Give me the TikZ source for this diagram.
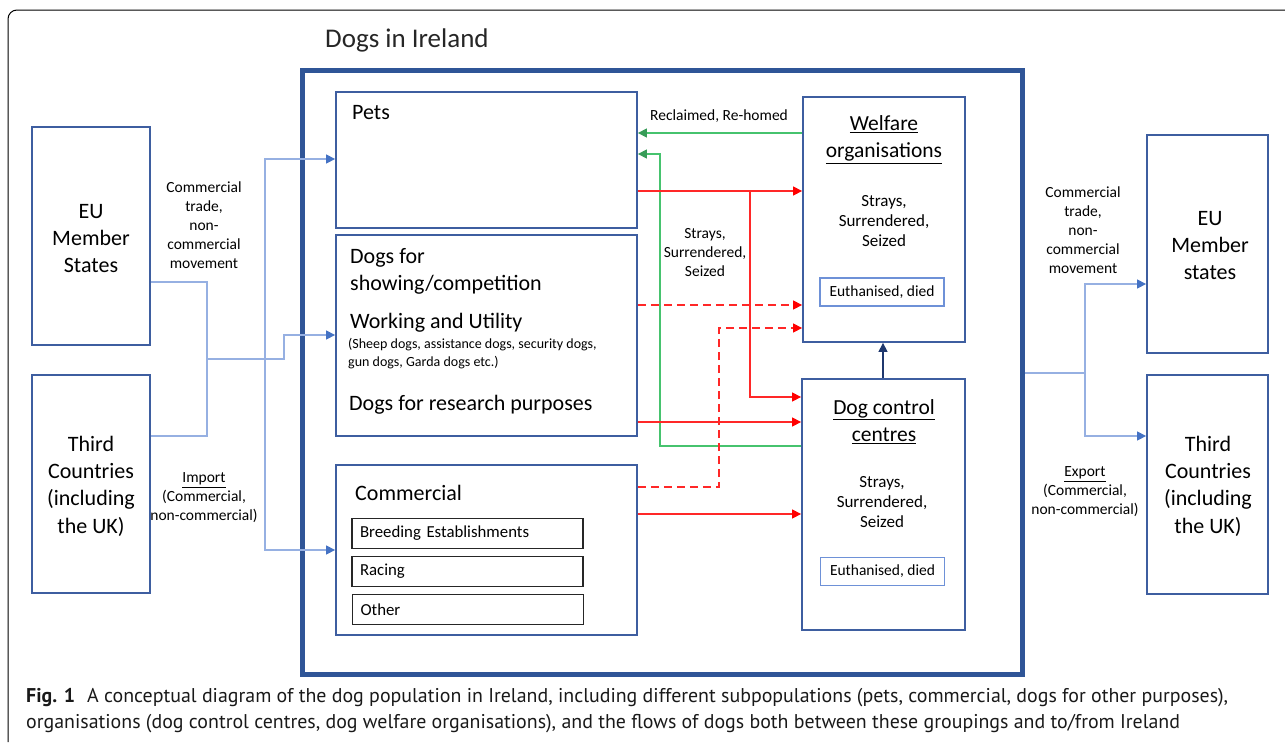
\documentclass[tikz,border=0pt]{standalone}
\usepackage{fontspec}
\setmainfont{Carlito}
\newfontfamily\capfont{PT Sans}
\usepackage{xcolor}
\usepackage{tikz}
\usetikzlibrary{arrows.meta}
\definecolor{irlblue}{RGB}{47,85,151}
\definecolor{boxblue}{RGB}{62,94,160}
\definecolor{euthblue}{RGB}{110,145,215}
\definecolor{flowblue}{RGB}{150,176,226}
\definecolor{tipblue}{RGB}{68,114,196}
\definecolor{flowred}{RGB}{255,40,40}
\definecolor{flowgreen}{RGB}{70,195,110}
\definecolor{navyblue}{RGB}{31,56,110}

\begin{document}
\begin{tikzpicture}[x=1pt,y=-1pt,
  grpbox/.style={draw=boxblue, line width=1.8pt, rectangle, inner sep=0pt},
  subbox/.style={draw=black!85, line width=1.8pt, minimum width=231pt, minimum height=30pt,
    text width=215pt, inner xsep=8pt, align=left, font=\fontsize{16.8}{19}\selectfont},
  euthbox/.style={draw=euthblue, line width=1.3pt, minimum width=124pt, minimum height=28pt,
    font=\fontsize{15.5}{18}\selectfont},
  bigtxt/.style={align=center, inner sep=0pt, font=\fontsize{22}{27.4}\selectfont},
  hdtxt/.style={anchor=west, align=left, inner sep=0pt, font=\fontsize{22}{27}\selectfont},
  smtxt/.style={align=center, inner sep=0pt, font=\fontsize{15.5}{19}\selectfont},
  midtxt/.style={align=center, inner sep=0pt, font=\fontsize{17}{20}\selectfont},
  bluearr/.style={draw=flowblue, line width=1.3pt, -{Triangle[length=9pt,width=9pt,color=tipblue]}},
  blueline/.style={draw=flowblue, line width=1.3pt},
  redarr/.style={draw=flowred, line width=1.3pt, -{Triangle[length=9pt,width=9pt,color=red]}},
  reddash/.style={redarr, dash pattern=on 8pt off 5pt},
  greenarr/.style={draw=flowgreen, line width=1.3pt, -{Triangle[length=9pt,width=9pt,color=flowgreen!80!black]}},
]
\useasboundingbox (0,0) rectangle (1285,742);
% frame of the figure
\draw[line width=1pt, rounded corners=9pt] (8,742) -- (8,10) -- (1285,10);

% Ireland
\node[font=\fontsize{27}{30}\selectfont, text=black!85, anchor=west, inner sep=0pt] (title) at (325,40) {Dogs in Ireland};
\node[draw=irlblue, line width=5pt, minimum width=720pt, minimum height=604pt] (irl) at (662,372) {};

% subpopulations
\node[grpbox, minimum width=301pt, minimum height=136pt] (pets) at (486.5,160) {};
\node[hdtxt] (petstxt) at (352,113) {Pets};
\node[grpbox, minimum width=301pt, minimum height=201pt] (show) at (486.5,335.5) {};
\node[hdtxt] (showtxt) at (350,271.5) {Dogs for\\showing/competition};
\node[hdtxt] (worktxt) at (350,323) {Working and Utility};
\node[anchor=west, align=left, inner sep=0pt, font=\fontsize{14}{18}\selectfont] (worknote) at (348,354) {(Sheep dogs, assistance dogs, security dogs,\\gun dogs, Garda dogs etc.)};
\node[hdtxt] (restxt) at (349,405) {Dogs for research purposes};
\node[grpbox, minimum width=301pt, minimum height=170pt] (comm) at (486.5,550) {};
\node[hdtxt] (commtxt) at (355,493) {Commercial};
\node[subbox] (breed) at (467.5,533.5) {Breeding Establishments};
\node[subbox] (racing) at (467.5,571.5) {Racing};
\node[subbox] (other) at (468,609.5) {Other};

% organisations
\node[grpbox, minimum width=162pt, minimum height=245pt] (welfare) at (884,219.5) {};
\node[bigtxt, font=\fontsize{21.5}{27}\selectfont] (welftitle) at (884,139.5) {\underline{Welfare}\\\underline{organisations}};
\node[midtxt] (welfsub) at (884,221) {Strays,\\Surrendered,\\Seized};
\node[euthbox] (welfeuth) at (882,292) {Euthanised, died};
\node[grpbox, minimum width=163pt, minimum height=251pt] (control) at (883.5,504.5) {};
\node[bigtxt, font=\fontsize{21.5}{27}\selectfont] (ctrltitle) at (884,421.5) {\underline{Dog control}\\\underline{centres}};
\node[midtxt] (ctrlsub) at (882,502) {Strays,\\Surrendered,\\Seized};
\node[euthbox] (ctrleuth) at (882.5,571.5) {Euthanised, died};

% outside Ireland
\node[grpbox, minimum width=118pt, minimum height=218pt] (euL) at (91,236) {};
\node[bigtxt] (euLtxt) at (91,238.5) {EU\\Member\\States};
\node[grpbox, minimum width=118pt, minimum height=218pt] (thirdL) at (91,484) {};
\node[bigtxt] (thirdLtxt) at (91,486) {Third\\Countries\\(including\\the UK)};
\node[grpbox, minimum width=121pt, minimum height=218pt] (euR) at (1207.5,244) {};
\node[bigtxt] (euRtxt) at (1210,245.5) {EU\\Member\\states};
\node[grpbox, minimum width=121pt, minimum height=219pt] (thirdR) at (1207.5,484.5) {};
\node[bigtxt] (thirdRtxt) at (1208,486) {Third\\Countries\\(including\\the UK)};

% flow labels
\node[smtxt] (tradeL) at (204,225) {Commercial\\trade,\\non-\\commercial\\movement};
\node[smtxt] (importL) at (204,498) {\underline{Import}\\(Commercial,\\non-commercial)};
\node[smtxt] (tradeR) at (1083,230) {Commercial\\trade,\\non-\\commercial\\movement};
\node[smtxt] (exportR) at (1085,492) {\underline{Export}\\(Commercial,\\non-commercial)};
\node[smtxt] (reclaim) at (719,116) {Reclaimed, Re-homed};
\node[smtxt] (strays) at (705,253) {Strays,\\Surrendered,\\Seized};

% imports
\coordinate (jA) at (207,359);
\coordinate (jB) at (265,359);
\draw[blueline] (euL.east |- 0,282) -| (jA) |- (thirdL.east |- 0,436);
\draw[bluearr] (jA) -- (284,359) |- (show.west |- 0,335);
\draw[bluearr] (jB) |- (pets.west |- 0,159);
\draw[bluearr] (jB) |- (comm.west |- 0,550);

% exports
\coordinate (jR) at (1085,373);
\draw[blueline] (irl.east |- jR) -- (jR);
\draw[bluearr] (jR) |- (euR.west |- 0,284);
\draw[bluearr] (jR) |- (thirdR.west |- 0,436);

% flows inside Ireland
\draw[greenarr] (welfare.west |- 0,133) -- (pets.east |- 0,133);
\draw[greenarr] (control.west |- 0,446) -| (660,300) |- (pets.east |- 0,154);
\draw[redarr] (pets.east |- 0,191) -- (welfare.west |- 0,191);
\draw[redarr] (750,191) |- (control.west |- 0,397);
\draw[reddash] (show.east |- 0,305) -- (welfare.west |- 0,305);
\draw[reddash] (comm.east |- 0,487) -| (719,400) |- (welfare.west |- 0,328);
\draw[redarr] (show.east |- 0,422) -- (control.west |- 0,422);
\draw[redarr] (comm.east |- 0,514) -- (control.west |- 0,514);
\draw[navyblue, line width=1.3pt, -{Triangle[length=9pt,width=9pt]}] (control.north -| 883,0) -- (welfare.south -| 883,0);

% caption
\node[anchor=west, inner sep=0pt, text=black!90, font=\capfont\fontsize{19.9}{24}\selectfont] (cap1) at (26,698) {\textbf{Fig. 1}\hspace{0.6em}A conceptual diagram of the dog population in Ireland, including different subpopulations (pets, commercial, dogs for other purposes),};
\node[anchor=west, inner sep=0pt, text=black!90, font=\capfont\fontsize{19.9}{24}\selectfont] (cap2) at (26,724) {organisations (dog control centres, dog welfare organisations), and the flows of dogs both between these groupings and to/from Ireland};
\end{tikzpicture}
\end{document}
